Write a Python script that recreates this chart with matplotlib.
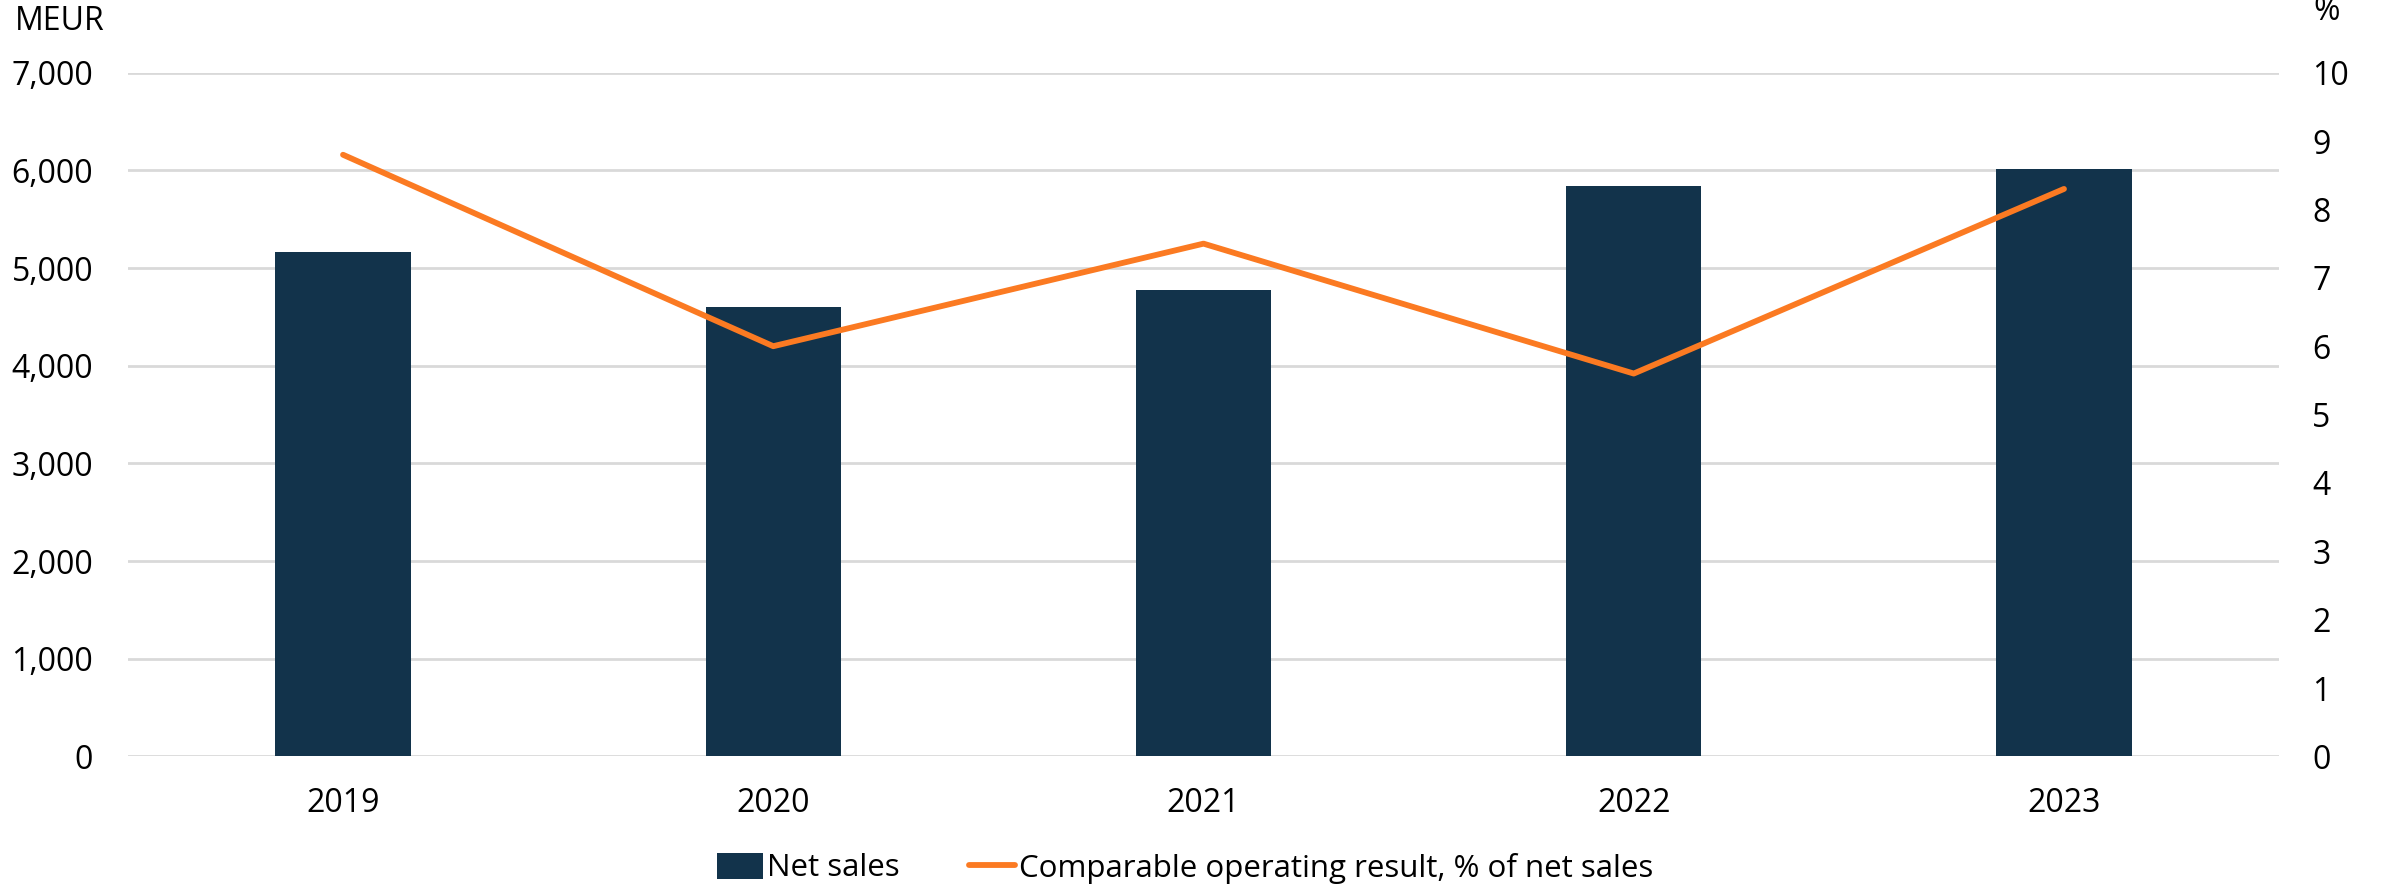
import matplotlib.pyplot as plt
import numpy as np
from matplotlib.ticker import FuncFormatter

years = ['2019', '2020', '2021', '2022', '2023']
net_sales = [5160, 4600, 4780, 5840, 6010]
comp_result_pct = [8.8, 6.0, 7.5, 5.6, 8.3]

bar_color = '#12334b'
line_color = '#fb7a22'
grid_color = '#d9d9d9'

plt.rcParams['font.family'] = ['Open Sans', 'DejaVu Sans']
plt.rcParams['font.size'] = 23

fig = plt.figure(figsize=(23.82, 8.91), dpi=100)
ax = fig.add_axes([0.0537, 0.151, 0.9031, 0.7674])
x = np.arange(len(years))

ax.bar(x, net_sales, width=0.314, color=bar_color, zorder=2, label='Net sales')
ax.set_ylim(0, 7000)
ax.set_yticks(np.arange(0, 7001, 1000))
ax.yaxis.set_major_formatter(FuncFormatter(lambda v, p: f'{int(v):,}'))
ax.set_xlim(-0.5, len(years) - 0.5)
ax.set_xticks(x)
ax.set_xticklabels(years)
ax.grid(axis='y', color=grid_color, linewidth=2, zorder=0)
ax.set_axisbelow(True)
for s in ax.spines.values():
    s.set_visible(False)
ax.tick_params(axis='both', length=0, labelsize=23)
ax.tick_params(axis='y', pad=25)
ax.tick_params(axis='x', pad=22)

ax2 = ax.twinx()
ax2.plot(x, comp_result_pct, color=line_color, linewidth=4.2, solid_capstyle='round',
         solid_joinstyle='round', zorder=3, label='Comparable operating result, % of net sales')
ax2.set_ylim(0, 10)
ax2.set_yticks(np.arange(0, 11, 1))
for s in ax2.spines.values():
    s.set_visible(False)
ax2.tick_params(axis='y', length=0, pad=24, labelsize=23)

fig.text(15 / 2382, 1 - 21 / 891, 'MEUR', ha='left', va='center', fontsize=23)
fig.text(2313 / 2382, 1 - 12 / 891, '%', ha='left', va='center', fontsize=23)

h1, l1 = ax.get_legend_handles_labels()
h2, l2 = ax2.get_legend_handles_labels()
fig.legend(h1 + h2, l1 + l2, loc='center', bbox_to_anchor=(1185 / 2382, 1 - 868 / 891),
           ncol=2, frameon=False, fontsize=22.5, handlelength=1.5, handleheight=0.9,
           handletextpad=0.12, columnspacing=2.2)

fig.savefig('out.png', dpi=100)
